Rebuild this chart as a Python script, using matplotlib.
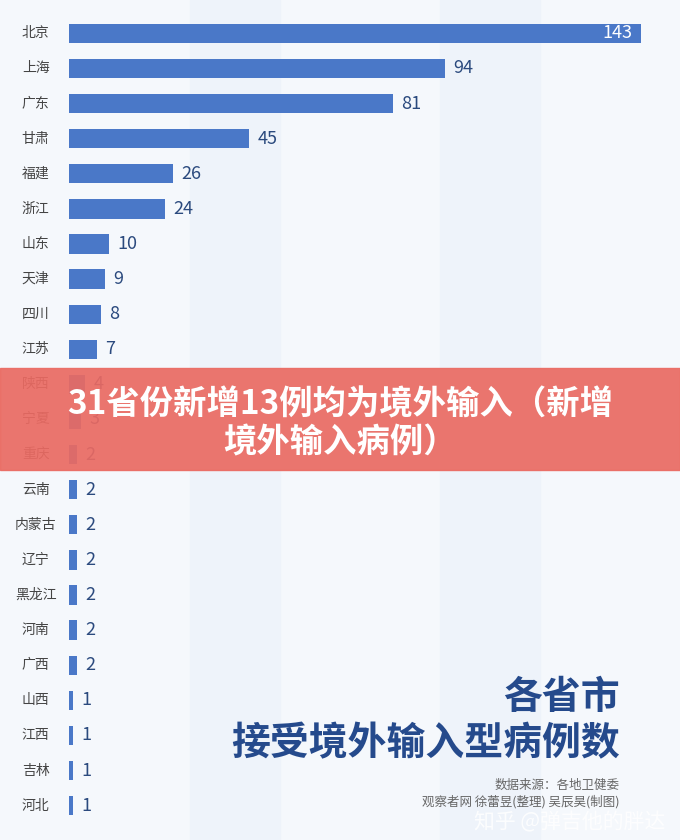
import matplotlib
matplotlib.use("Agg")
import matplotlib.pyplot as plt
from matplotlib.patches import Rectangle

plt.rcParams['font.family'] = ['Noto Sans CJK SC', 'DejaVu Sans']

provinces = ["北京","上海","广东","甘肃","福建","浙江","山东","天津","四川","江苏","陕西","宁夏",
             "重庆","云南","内蒙古","辽宁","黑龙江","河南","广西","山西","江西","吉林","河北"]
values = [143,94,81,45,26,24,10,9,8,7,4,3,2,2,2,2,2,2,2,1,1,1,1]

W, H = 680, 840
fig = plt.figure(figsize=(6.8, 8.4), dpi=100)
fig.patch.set_facecolor("#f5f8fc")
for x0, w in [(190, 90), (440, 100)]:
    fig.add_artist(Rectangle((x0/W, 0), w/W, 1, transform=fig.transFigure, color="#eef3fa", zorder=0))

n = len(values)
ax = fig.add_axes([69/W, 1-825/H, (680-69)/W, (825-14)/H])
ax.set_facecolor("none")
ax.barh(range(n), values, height=0.55, color="#4a78c8")
ax.set_ylim(n-0.45, -0.55)
ax.set_xlim(0, 152.7)
ax.axis("off")
for i, (p, v) in enumerate(zip(provinces, values)):
    ax.annotate(p, (0, i), xytext=(-24, 0), textcoords="offset points", ha="center", va="center",
                fontsize=10, color="#444444")
    if i == 0:
        ax.annotate(str(v), (v, i), xytext=(-6, 0), textcoords="offset points", ha="right", va="center",
                    fontsize=13, color="white")
    else:
        ax.annotate(str(v), (v, i), xytext=(6, 0), textcoords="offset points", ha="left", va="center",
                    fontsize=13, color="#2b4a7e")

fig.add_artist(Rectangle((0, 1-470/H), 1, 102/H, transform=fig.transFigure, color="#ea6a62",
                         alpha=0.92, zorder=5))
fig.text(0.5, 1-405/H, "31省份新增13例均为境外输入（新增", ha="center", va="center",
         fontsize=24, fontweight="bold", color="white", zorder=6)
fig.text(0.5, 1-443/H, "境外输入病例）", ha="center", va="center",
         fontsize=24, fontweight="bold", color="white", zorder=6)

fig.text(620/W, 1-698/H, "各省市", ha="right", va="center", fontsize=28, fontweight="heavy", color="#254a8c")
fig.text(620/W, 1-744/H, "接受境外输入型病例数", ha="right", va="center", fontsize=28, fontweight="heavy", color="#254a8c")
fig.text(620/W, 1-785/H, "数据来源：各地卫健委", ha="right", va="center", fontsize=9, color="#666666")
fig.text(620/W, 1-802/H, "观察者网 徐蕾昱(整理) 吴辰昊(制图)", ha="right", va="center", fontsize=9, color="#666666")
fig.text(665/W, 1-822/H, "知乎 @弹吉他的胖达", ha="right", va="center", fontsize=15, color="white",
         alpha=0.85, zorder=7)

fig.savefig("out.png", dpi=100, facecolor=fig.get_facecolor())
